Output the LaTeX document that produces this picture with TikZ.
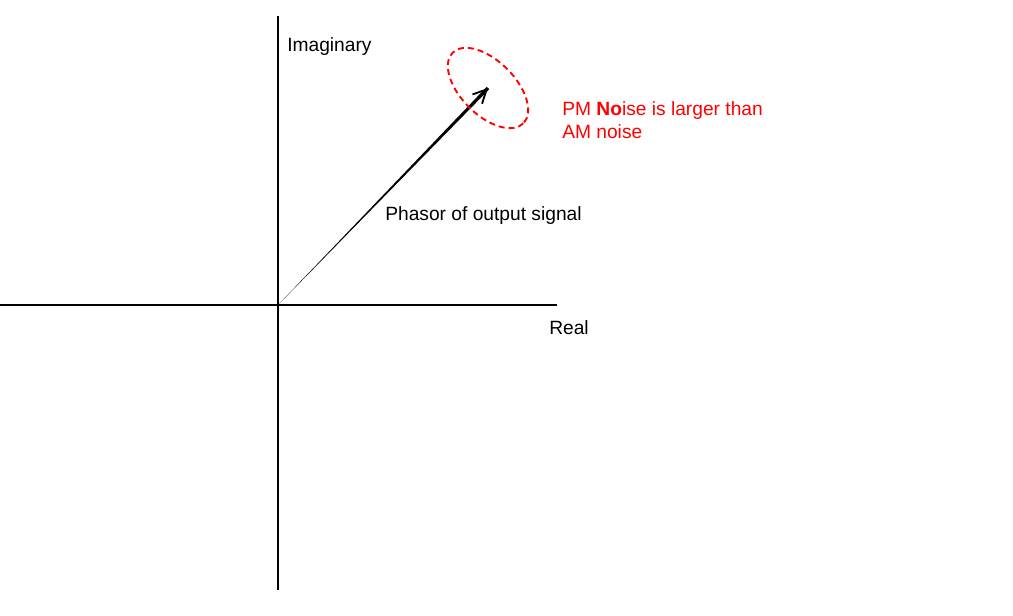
\documentclass[tikz,border=0pt]{standalone}
\usepackage{fontspec}
\setmainfont{Liberation Sans}
\usetikzlibrary{arrows.meta,calc}
\begin{document}
\begin{tikzpicture}[x=0.75pt,y=-0.75pt,
  axis/.style={line width=1.5pt,black},
  lbl/.style={font=\fontsize{14.4}{17}\selectfont,anchor=base west,inner sep=0pt},
  redlbl/.style={lbl,text=red,align=left}]
\useasboundingbox (0,0) rectangle (1013,615);
\coordinate (O) at (278,305);
\coordinate (T) at (488,88);
\coordinate (XL) at (0,305);
\coordinate (XR) at (557,305);
\coordinate (YT) at (278,16);
\coordinate (YB) at (278,590);
\draw[axis] (XL) -- (XR);
\draw[axis] (YT) -- (YB);
% tapered phasor shaft
\fill[black] (O) -- ($(T)!1.3pt!90:(O)$) -- ($(T)!1.3pt!-90:(O)$) -- cycle;
\draw[line width=1.4pt,-{Straight Barb[length=10pt,width=10pt,line width=1.4pt]}] ($(O)!0.9!(T)$) -- (T);
% ellipse
\draw[red,line width=1.4pt,dash pattern=on 4.5pt off 3pt,rotate around={-45:(T)}] (T) ellipse [x radius=50,y radius=27];
\node[lbl] (imag) at (287,51) {Imaginary};
\node[lbl] (real) at (549,334) {Real};
\node[lbl] (phasor) at (385,220) {Phasor of output signal};
\node[redlbl] (pm) at (562,115) {PM \textbf{No}ise is larger than};
\node[redlbl] (am) at (562,138) {AM noise};
\end{tikzpicture}
\end{document}
